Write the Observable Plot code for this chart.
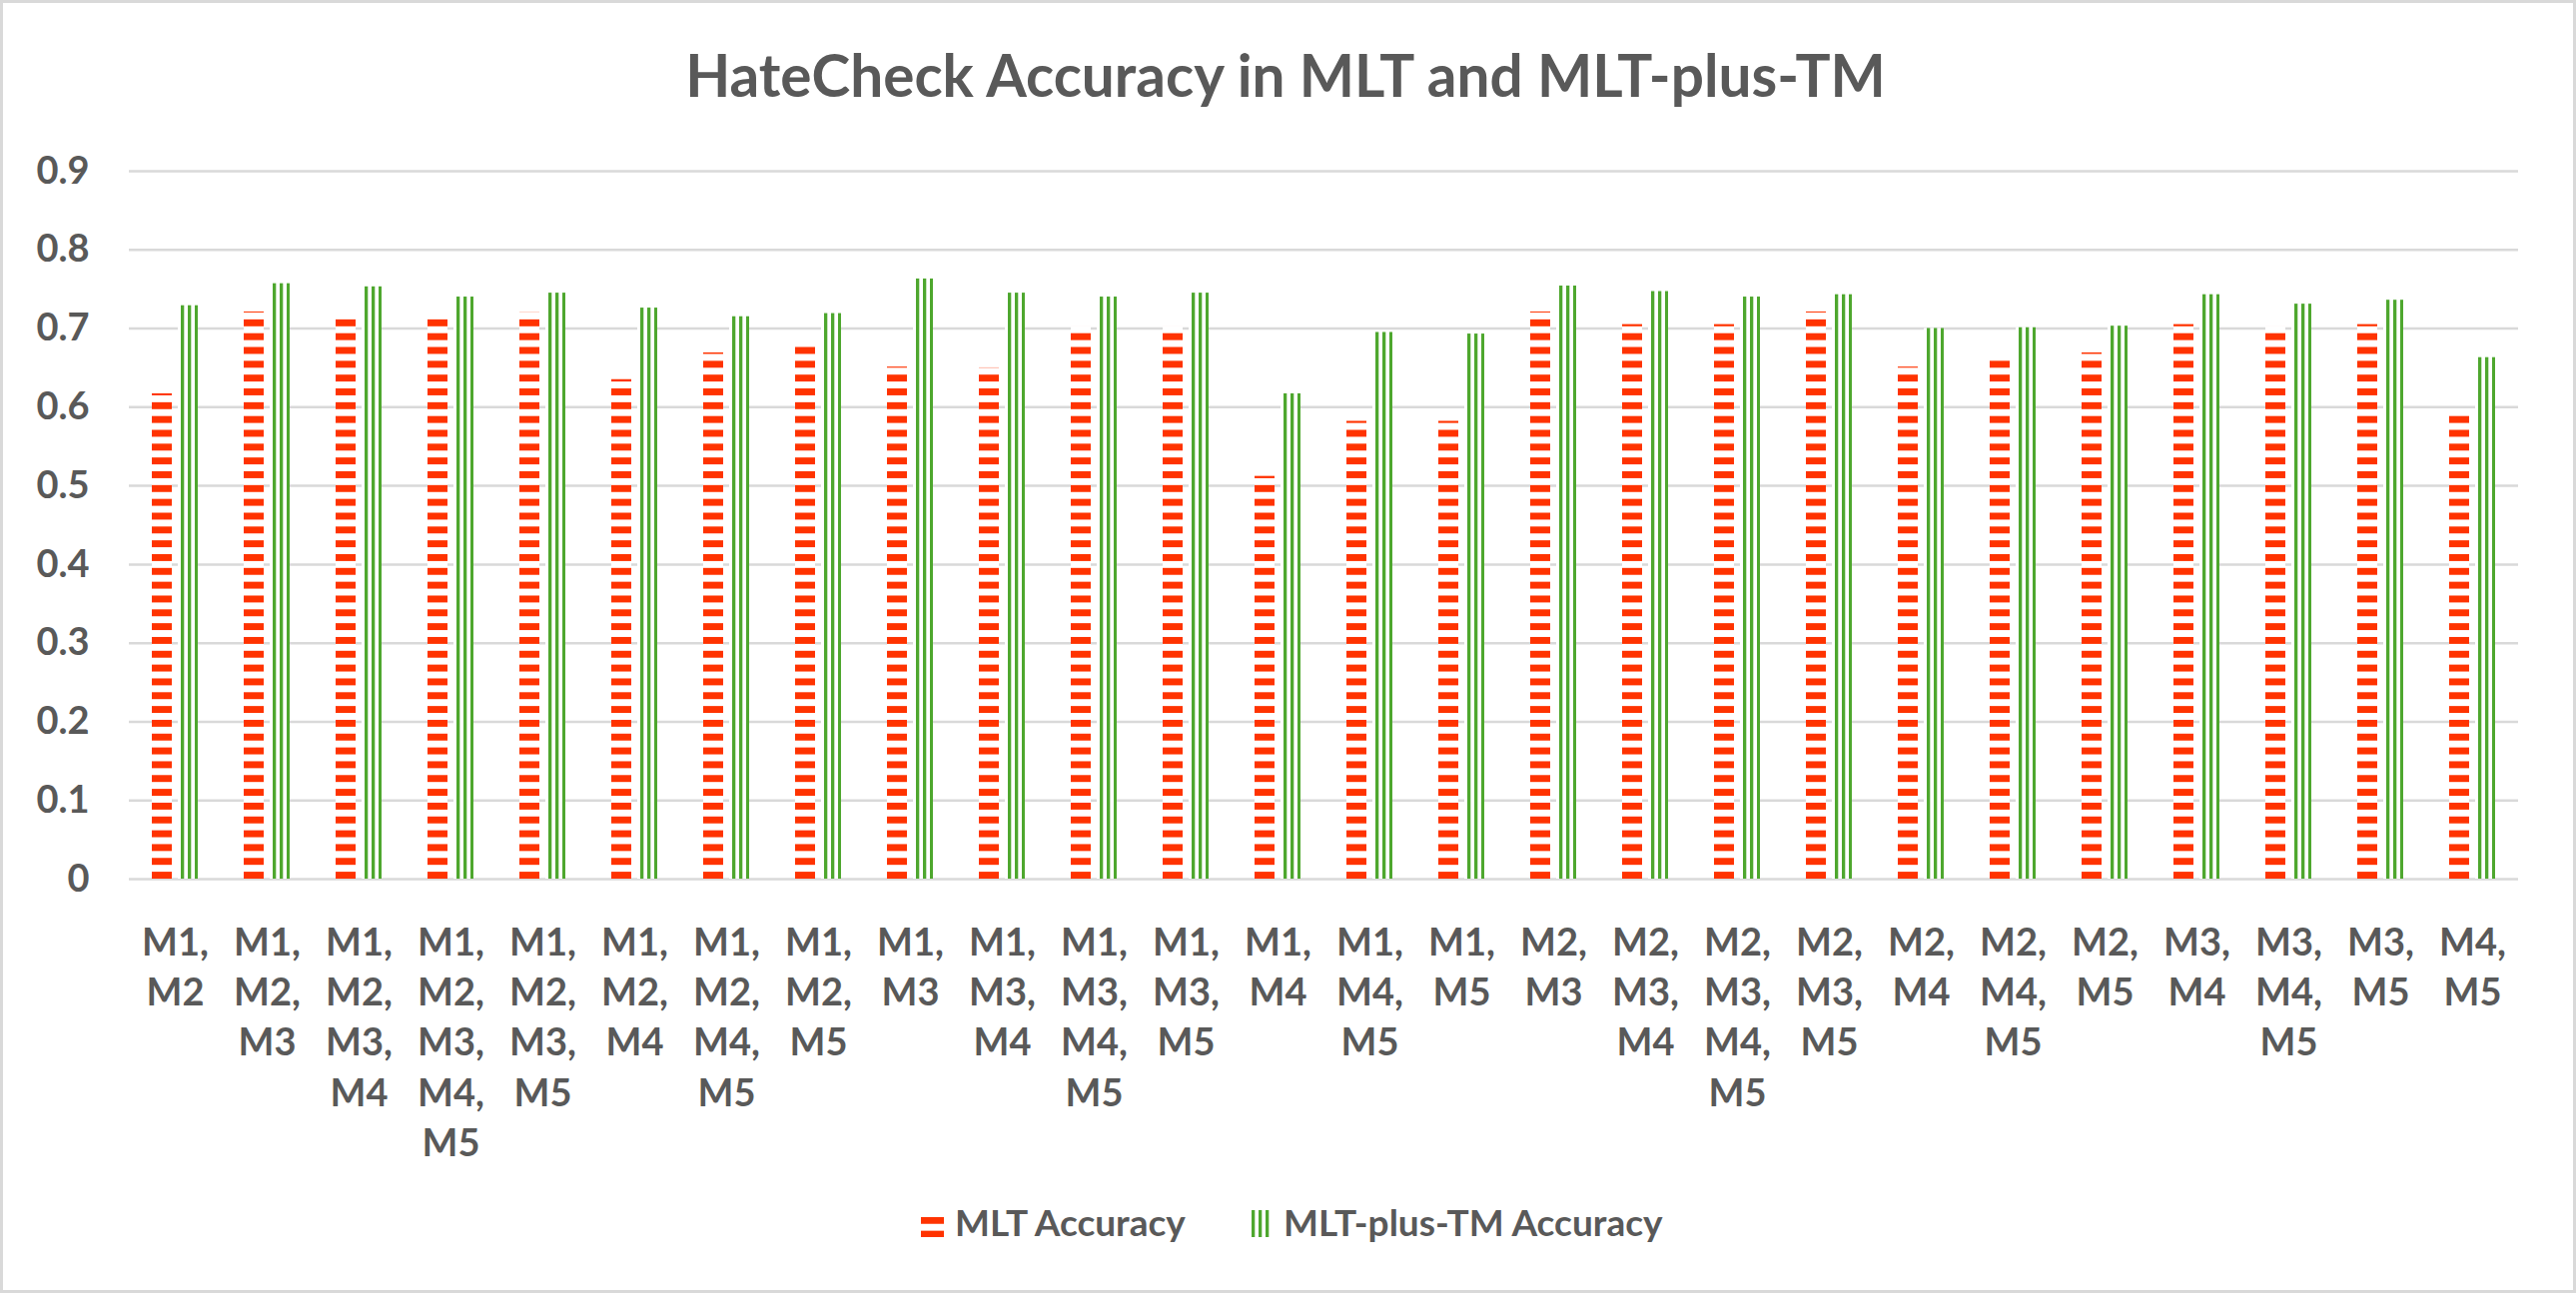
<!DOCTYPE html>
<html>
<head>
<meta charset="utf-8">
<script src="https://cdn.jsdelivr.net/npm/d3@7"></script>
<script src="https://cdn.jsdelivr.net/npm/@observablehq/plot@0.6"></script>
<style>
  html, body { margin: 0; padding: 0; background: #fff; }
  #wrap { position: relative; width: 2579px; height: 1295px; overflow: hidden; }
  #wrap > svg { position: absolute; left: 0; top: 0; }
  #frame { position: absolute; left: 0; top: 0; width: 2579px; height: 1295px; box-sizing: border-box; border: 3px solid #d9d9d9; pointer-events: none; }
</style>
</head>
<body>
<div id="wrap"><div id="frame"></div></div>
<script>
const title = "HateCheck Accuracy in MLT and MLT-plus-TM";
const categories = [
  "M1, M2", "M1, M2, M3", "M1, M2, M3, M4", "M1, M2, M3, M4, M5", "M1, M2, M3, M5",
  "M1, M2, M4", "M1, M2, M4, M5", "M1, M2, M5", "M1, M3", "M1, M3, M4",
  "M1, M3, M4, M5", "M1, M3, M5", "M1, M4", "M1, M4, M5", "M1, M5",
  "M2, M3", "M2, M3, M4", "M2, M3, M4, M5", "M2, M3, M5", "M2, M4",
  "M2, M4, M5", "M2, M5", "M3, M4", "M3, M4, M5", "M3, M5", "M4, M5"
];
const seriesNames = ["MLT Accuracy", "MLT-plus-TM Accuracy"];
const mltAccuracy = [0.617, 0.721, 0.717, 0.716, 0.720, 0.635, 0.669, 0.683, 0.651, 0.650,
  0.702, 0.702, 0.512, 0.582, 0.582, 0.721, 0.705, 0.705, 0.721, 0.651,
  0.665, 0.669, 0.705, 0.702, 0.705, 0.594];
const tmAccuracy = [0.729, 0.757, 0.753, 0.740, 0.745, 0.726, 0.715, 0.719, 0.763, 0.745,
  0.740, 0.745, 0.617, 0.695, 0.693, 0.754, 0.747, 0.740, 0.743, 0.700,
  0.701, 0.703, 0.743, 0.731, 0.736, 0.663];
const yTicks = [0, 0.1, 0.2, 0.3, 0.4, 0.5, 0.6, 0.7, 0.8, 0.9];

const RED = "#ff3300", GREEN = "#4ea72e", TEXT = "#595959", GRID = "#d9d9d9";
const FONT = "Lato, 'Open Sans', sans-serif";

const rows = [];
categories.forEach((c, i) => {
  rows.push({cat: c, series: seriesNames[0], value: mltAccuracy[i]});
  rows.push({cat: c, series: seriesNames[1], value: tmAccuracy[i]});
});

const W = 2579, H = 1295;
const chart = Plot.plot({
  width: W,
  height: 1150,
  marginTop: 171,
  marginBottom: 270,
  marginLeft: 123,
  marginRight: 53,
  style: {fontFamily: FONT, fontWeight: 700, color: TEXT, background: "transparent", overflow: "visible"},
  fx: {domain: categories, padding: 0, label: null},
  x: {domain: seriesNames, paddingInner: 0.222, paddingOuter: 0.823, axis: null},
  y: {domain: [0, 0.9], label: null},
  marks: [
    Plot.gridY(yTicks, {stroke: GRID, strokeOpacity: 1, strokeWidth: 2.5}),
    Plot.barY(rows.filter(d => d.series === seriesNames[0]), {fx: "cat", x: "series", y: "value", fill: "url(#patRed)", insetLeft: 0, insetRight: 0}),
    Plot.barY(rows.filter(d => d.series === seriesNames[1]), {fx: "cat", x: "series", y: "value", fill: "url(#patGreen)", insetLeft: 0, insetRight: 0}),
    Plot.axisY(yTicks, {tickSize: 0, tickPadding: 40, fontSize: 38, fill: TEXT, label: null,
      tickFormat: d => d === 0 ? "0" : d.toFixed(1)}),
    Plot.axisFx({anchor: "bottom", tickSize: 0, tickPadding: 41, fontSize: 38, lineHeight: 1.32, fill: TEXT, label: null,
      tickFormat: d => d.replace(/, /g, ",\n")})
  ]
});

const ns = "http://www.w3.org/2000/svg";
function addPatterns(svg, suffix) {
  const defs = document.createElementNS(ns, "defs");
  defs.innerHTML = `
    <pattern id="patRed${suffix}" patternUnits="userSpaceOnUse" width="20" height="13.83" y="${880 % 13.83}">
      <rect width="20" height="13.83" fill="#fff"/>
      <rect y="6.9" width="20" height="6.93" fill="${RED}"/>
    </pattern>
    <pattern id="patGreen${suffix}" patternUnits="userSpaceOnUse" width="7" height="20" x="0">
      <rect width="7" height="20" fill="#fff"/>
      <rect x="0" width="3.3" height="20" fill="${GREEN}"/>
    </pattern>`;
  svg.insertBefore(defs, svg.firstChild);
}
addPatterns(chart, "");
document.getElementById("wrap").insertBefore(chart, document.getElementById("frame"));

// overlay: title + legend
const over = document.createElementNS(ns, "svg");
over.setAttribute("width", W);
over.setAttribute("height", H);
over.setAttribute("font-family", FONT);
over.setAttribute("font-weight", "700");
addPatterns(over, "L");
over.insertAdjacentHTML("beforeend", `
  <text x="1287" y="97" text-anchor="middle" font-size="58.5" fill="${TEXT}">${title}</text>
  <rect x="922" y="1219" width="23" height="20" fill="url(#patRedL)"/>
  <text x="956" y="1238" font-size="37" fill="${TEXT}">${seriesNames[0]}</text>
  <rect x="1252" y="1212" width="21" height="27" fill="url(#patGreenL)"/>
  <text x="1285" y="1238" font-size="37" fill="${TEXT}">${seriesNames[1]}</text>
`);
document.getElementById("wrap").insertBefore(over, document.getElementById("frame"));
</script>
</body>
</html>
